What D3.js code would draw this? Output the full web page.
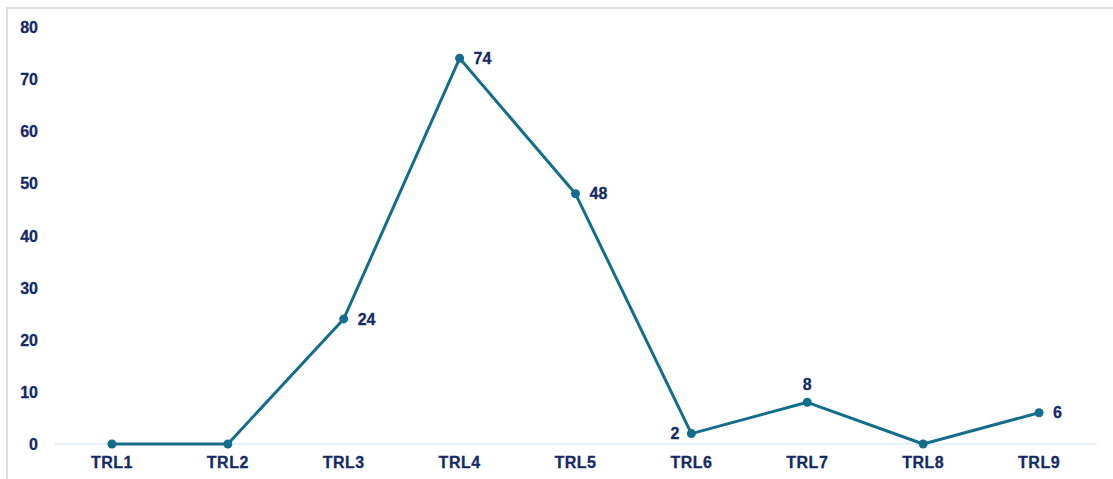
<!DOCTYPE html>
<html><head><meta charset="utf-8">
<script src="https://cdn.jsdelivr.net/npm/d3@7"></script>
<style>body{margin:0;background:#fff}svg{display:block}text{font-family:"Liberation Sans",Arial,sans-serif;font-weight:bold;fill:#162a64;stroke:#162a64;stroke-width:0.3px}</style>
</head><body><svg id="c" width="1113" height="479"></svg>
<script>
const categories = ["TRL1","TRL2","TRL3","TRL4","TRL5","TRL6","TRL7","TRL8","TRL9"];
const values = [0,0,24,74,48,2,8,0,6];
const yTicks = [0,10,20,30,40,50,60,70,80];
const labelPos = ["none","none","right","right","right","left","top","none","right"];

const svg = d3.select("#c");
// frame
svg.append("path").attr("d","M7,480 V8 H1113").attr("fill","none").attr("stroke","#dcdcdc").attr("stroke-width",2);

const x = d3.scaleBand().domain(categories).range([54,1097]);
const y = d3.scaleLinear().domain([0,80]).range([444,27]);
const cx = d => x(d) + x.bandwidth()/2;

// baseline
svg.append("line").attr("x1",54).attr("x2",1097).attr("y1",y(0)).attr("y2",y(0)).attr("stroke","#ddeef7").attr("stroke-width",1.5);

// y axis labels
const yAxis = d3.axisLeft(y).tickValues(yTicks).tickSize(0).tickPadding(0);
const gy = svg.append("g").attr("transform","translate(38,0)").call(yAxis);
gy.select(".domain").remove();
gy.selectAll("text").attr("font-size",16).attr("text-anchor","end").attr("dy","0.35em").style("font-family",null).attr("fill",null);

// x axis labels
const xAxis = d3.axisBottom(x).tickSize(0).tickPadding(0);
const gx = svg.append("g").attr("transform","translate(0,457)").call(xAxis);
gx.select(".domain").remove();
gx.selectAll("text").attr("font-size",16).attr("dy","0.71em").attr("fill",null).style("font-family",null).attr("letter-spacing","0.5px");

const color = "#156d8c";
const line = d3.line().x((d,i)=>cx(categories[i])).y(d=>y(d));
svg.append("path").datum(values).attr("d",line).attr("fill","none").attr("stroke",color).attr("stroke-width",3).attr("stroke-linejoin","round");
svg.selectAll("circle.pt").data(values).enter().append("circle").attr("class","pt")
  .attr("cx",(d,i)=>cx(categories[i])).attr("cy",d=>y(d)).attr("r",4.5).attr("fill",color);

const pts = values.map((v,i)=>({v, c:categories[i], pos:labelPos[i]})).filter(d=>d.pos!=="none");
svg.selectAll("text.lbl").data(pts).enter().append("text").attr("class","lbl")
  .attr("font-size",16)
  .attr("x",d=> d.pos==="right"? cx(d.c)+14 : d.pos==="left"? cx(d.c)-12 : cx(d.c))
  .attr("y",d=> d.pos==="top"? y(d.v)-12 : y(d.v))
  .attr("dy",d=> d.pos==="top"? "0" : "0.35em")
  .attr("text-anchor",d=> d.pos==="right"?"start": d.pos==="left"?"end":"middle")
  .text(d=>d.v);
</script></body></html>
